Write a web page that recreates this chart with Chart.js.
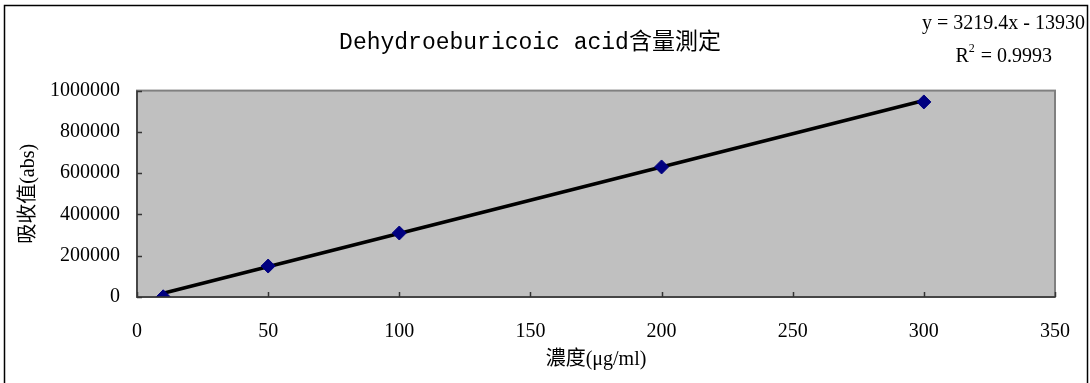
<!DOCTYPE html>
<html>
<head>
<meta charset="utf-8">
<script src="https://cdn.jsdelivr.net/npm/chart.js@4"></script>
<style>
  html, body { margin: 0; padding: 0; background: #fff; }
  #wrap { width: 1090px; height: 383px; }
</style>
</head>
<body>
<div id="wrap"><canvas id="c"></canvas></div>
<script>
const concentrations = [10, 50, 100, 200, 300];
const absorbance = [1000, 150000, 310000, 630000, 945000];
const slope = 3219.4;
const intercept = -13930;
const equationText = 'y = 3219.4x - 13930';
const r2Text = '0.9993';

const serif = "'Liberation Serif', 'Noto Sans CJK TC', serif";

// trendline end points from the equation
const trend = [concentrations[0], concentrations[concentrations.length - 1]].map(x => ({ x: x, y: slope * x + intercept }));

const frame = {
    id: 'frame',
    beforeDraw(chart) {
        const ctx = chart.ctx, a = chart.chartArea;
        ctx.save();
        ctx.fillStyle = '#fff';
        ctx.fillRect(0, 0, chart.width, chart.height);
        ctx.strokeStyle = '#000';
        ctx.lineWidth = 1.5;
        ctx.strokeRect(4.5, 5.5, 1083, 390);
        ctx.fillStyle = '#c0c0c0';
        ctx.fillRect(a.left, a.top, a.right - a.left, a.bottom - a.top);
        ctx.strokeStyle = '#808080';
        ctx.lineWidth = 2;
        ctx.strokeRect(a.left, a.top, a.right - a.left, a.bottom - a.top);
        ctx.restore();
    },
    afterDraw(chart) {
        const ctx = chart.ctx, a = chart.chartArea;
        const xs = chart.scales.x, ys = chart.scales.y;
        ctx.save();
        ctx.strokeStyle = '#333';
        ctx.lineWidth = 1.5;
        ctx.beginPath();
        ctx.moveTo(a.left, a.top);
        ctx.lineTo(a.left, a.bottom);
        ctx.lineTo(a.right, a.bottom);
        xs.ticks.forEach(t => {
            const px = Math.round(xs.getPixelForValue(t.value)) + 0.5;
            ctx.moveTo(px, a.bottom);
            ctx.lineTo(px, a.bottom - 5);
        });
        ys.ticks.forEach(t => {
            const py = Math.round(ys.getPixelForValue(t.value)) + 0.5;
            ctx.moveTo(a.left, py);
            ctx.lineTo(a.left + 5, py);
        });
        ctx.stroke();

        // equation text, top right
        ctx.fillStyle = '#000';
        ctx.textBaseline = 'alphabetic';
        ctx.font = "20px " + serif;
        ctx.textAlign = 'right';
        ctx.fillText(equationText, 1085, 29);
        const rest = ' = ' + r2Text;
        const wRest = ctx.measureText(rest).width;
        ctx.fillText(rest, 1052, 62);
        ctx.fillText('R', 1052 - wRest - 7, 62);
        ctx.font = "12px " + serif;
        ctx.textAlign = 'left';
        ctx.fillText('2', 1052 - wRest - 7, 52);
        ctx.restore();
    }
};

new Chart(document.getElementById('c'), {
    type: 'scatter',
    data: {
        datasets: [{
            label: 'trend',
            type: 'line',
            data: trend,
            borderColor: '#000',
            borderWidth: 3.5,
            pointRadius: 0,
            fill: false,
            order: 2
        }, {
            label: 'data',
            data: concentrations.map((x, i) => ({ x: x, y: absorbance[i] })),
            pointStyle: 'rectRot',
            pointRadius: 7,
            pointBackgroundColor: '#000080',
            pointBorderColor: '#000080',
            pointBorderWidth: 1,
            order: 1
        }]
    },
    options: {
        responsive: true,
        maintainAspectRatio: false,
        animation: false,
        layout: { padding: { left: 5, right: 35, top: 20, bottom: 5 } },
        plugins: {
            legend: { display: false },
            tooltip: { enabled: false },
            title: {
                display: true,
                text: 'Dehydroeburicoic acid含量測定',
                color: '#000',
                font: { family: "'Liberation Mono', 'Noto Sans CJK TC', monospace", size: 23, weight: 'normal' },
                padding: { top: 9, bottom: 34 }
            }
        },
        scales: {
            x: {
                type: 'linear',
                min: 0,
                max: 350,
                ticks: { stepSize: 50, color: '#000', padding: 23, font: { family: serif, size: 20 } },
                grid: { display: true, drawOnChartArea: false, drawTicks: false },
                border: { display: false },
                title: {
                    display: true,
                    text: '濃度(μg/ml)',
                    color: '#000',
                    font: { family: serif, size: 20 },
                    padding: { top: 0, bottom: 6 }
                },
                afterFit(scale) {
                    scale.height = 81;
                    scale.paddingLeft = 0;
                    scale.paddingRight = 0;
                }
            },
            y: {
                type: 'linear',
                min: 0,
                max: 1000000,
                ticks: {
                    stepSize: 200000, color: '#000', padding: 17, font: { family: serif, size: 20 },
                    callback: v => String(v)
                },
                grid: { display: true, drawOnChartArea: false, drawTicks: false },
                border: { display: false },
                title: {
                    display: true,
                    text: '吸收值(abs)',
                    color: '#000',
                    font: { family: serif, size: 20 },
                    padding: { top: 12, bottom: 0 }
                },
                afterFit(scale) { scale.width = 132; }
            }
        }
    },
    plugins: [frame]
});
</script>
</body>
</html>
